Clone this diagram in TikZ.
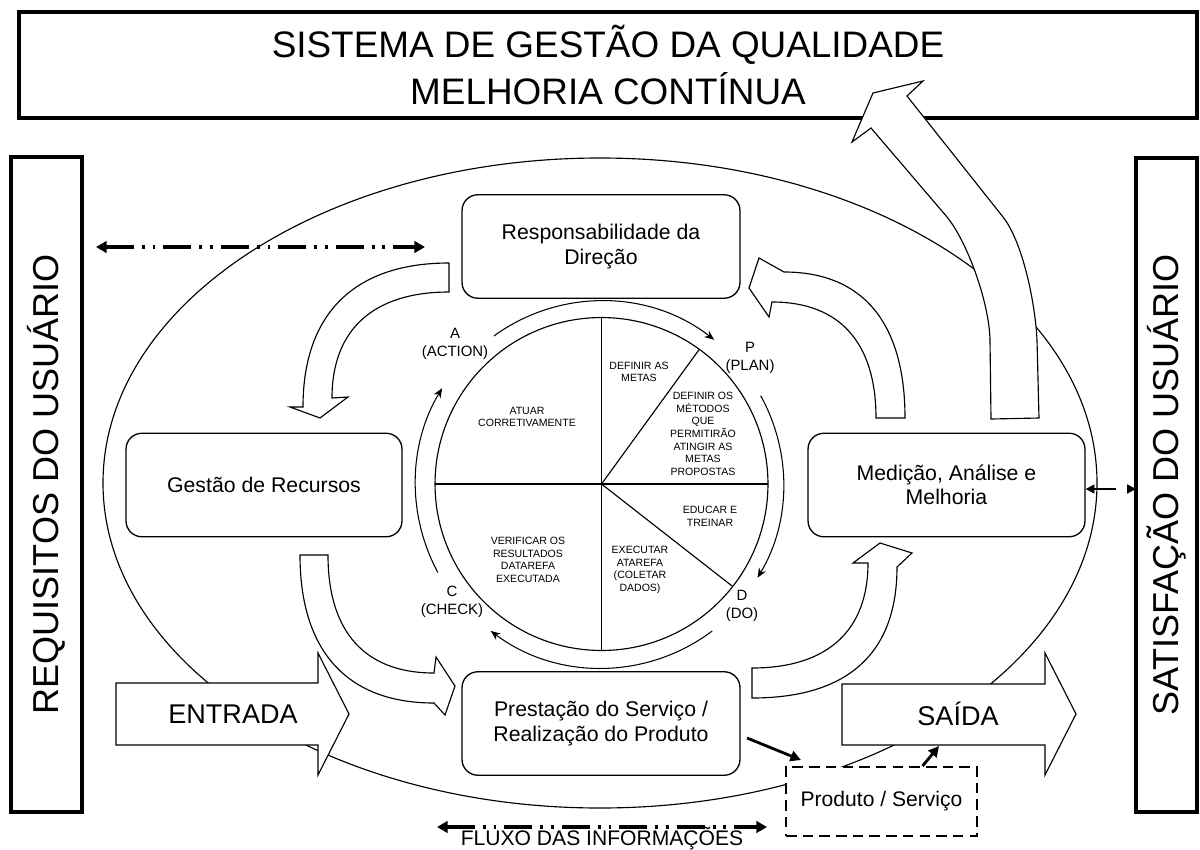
\documentclass[tikz,border=0pt]{standalone}
\usepackage{fontspec}
\setmainfont{Liberation Sans}
\usetikzlibrary{arrows.meta,calc}
\begin{document}
\begin{tikzpicture}[x=0.02cm,y=-0.02cm,
  thinline/.style={line width=0.65pt},
  bigbox/.style={draw, line width=1.9pt, fill=white, inner sep=0pt},
  rbox/.style={draw, line width=0.75pt, rounded corners=9pt, fill=white, minimum width=5.56cm, minimum height=2.07cm, align=center, inner sep=0pt, font=\fontsize{12.1}{13.9}\selectfont},
  band/.style={draw, line width=0.65pt, fill=white, line join=miter},
  pdca/.style={align=center, font=\fontsize{8.5}{10.2}\selectfont, inner sep=0pt},
  pietxt/.style={align=center, font=\fontsize{6}{7.2}\selectfont, inner sep=0pt},
  ringarrow/.style={line width=0.6pt, -{Stealth[length=5.5pt,width=4.5pt]}},
  infoarrow/.style={line width=1.8pt, dash pattern=on 16pt off 4.5pt on 1.6pt off 4.5pt on 1.6pt off 4.5pt, {Triangle[length=6pt,width=6.5pt]}-{Triangle[length=6pt,width=6.5pt]}},
  solidarrow/.style={line width=1.6pt, -{Triangle[length=6pt,width=6pt]}},
  bigtxt/.style={inner sep=0pt, font=\fontsize{15.4}{18}\selectfont},
]
\fill[white] (0,0) rectangle (1200,849);
\useasboundingbox (0,0) rectangle (1200,849);

% outer ellipse
\draw[thinline] (600,483) ellipse [x radius=497, y radius=325];

% frame boxes
\node[bigbox, minimum width=23.56cm, minimum height=2.12cm, align=center, font=\fontsize{21}{26.5}\selectfont] (title) at (608,65) {SISTEMA DE GESTÃO DA QUALIDADE\\MELHORIA CONTÍNUA};
\node[bigbox, rotate=90, minimum width=13.1cm, minimum height=1.42cm, font=\fontsize{20.5}{24}\selectfont] (lbox) at (46.5,484.5) {REQUISITOS DO USUÁRIO};
\node[bigbox, rotate=90, minimum width=13.08cm, minimum height=1.22cm, font=\fontsize{20.5}{24}\selectfont] (rbox) at (1166.5,485) {SATISFAÇÃO DO USUÁRIO};

% PDCA pie
\node[circle, draw, thinline, minimum size=6.66cm, inner sep=0pt, outer sep=0pt] (pie) at (601.5,484) {};
\draw[thinline] (pie.north) -- (pie.south);
\draw[thinline] (pie.west) -- (pie.east);
\draw[thinline] (pie.center) -- (pie.54);
\draw[thinline] (pie.center) -- (pie.-38);

% ring arrows
\draw[ringarrow] ($(pie.center)+(-126:183)$) arc[start angle=-126, end angle=-52, radius=183];
\draw[ringarrow] ($(pie.center)+(-29:182)$) arc[start angle=-29, end angle=31, radius=182];
\draw[ringarrow] ($(pie.center)+(53:184)$) arc[start angle=53, end angle=127, radius=184];
\draw[ringarrow] ($(pie.center)+(151.6:186)$) arc[start angle=151.6, end angle=211, radius=186];

% PDCA labels
\node[pdca] (lA) at (455,344) {A\\(ACTION)};
\node[pdca] (lP) at (750,358) {P\\(PLAN)};
\node[pdca] (lD) at (742,606) {D\\(DO)};
\node[pdca] (lC) at (452,602) {C\\(CHECK)};

% pie texts
\node[pietxt] (t1) at (639,372) {DEFINIR AS\\METAS};
\node[pietxt] (t2) at (703,434) {DEFINIR OS\\MÉTODOS\\QUE\\PERMITIRÃO\\ATINGIR AS\\METAS\\PROPOSTAS};
\node[pietxt] (t3) at (527,417) {ATUAR\\CORRETIVAMENTE};
\node[pietxt] (t4) at (710,516) {EDUCAR E\\TREINAR};
\node[pietxt] (t5) at (528,560) {VERIFICAR OS\\RESULTADOS\\DATAREFA\\EXECUTADA};
\node[pietxt] (t6) at (640,570) {EXECUTAR\\ATAREFA\\(COLETAR\\DADOS)};

% process boxes
\node[rbox] (resp) at (601,246.5) {Responsabilidade da\\Direção};
\node[rbox, minimum width=5.52cm] (gest) at (264,485) {Gestão de Recursos};
\node[rbox, minimum width=5.54cm] (med) at (946.5,485) {Medição, Análise e\\Melhoria};
\node[rbox] (prest) at (601,723.5) {Prestação do Serviço /\\Realização do Produto};

% curved block arrows
\draw[band] (449,263) .. controls (355,263) and (303,313) .. (303,407) -- (290,407) -- (320,418) -- (348,397) -- (332,398) .. controls (332,329) and (374,292) .. (449,292) -- cycle;
\draw[band] (300,555) .. controls (300,651) and (347,703) .. (434,703) -- (445,715) -- (455,686) -- (436,657) -- (434,673) .. controls (365,673) and (328,632) .. (328,555) -- cycle;
\draw[band] (752,668) .. controls (827,668) and (868,631) .. (868,563) -- (853,563) -- (880,543) -- (912,553) -- (897,567) .. controls (897,655) and (846,698) .. (752,698) -- cycle;
\draw[band] (876,418) .. controls (876,343) and (840,302) .. (772,302) -- (769,317) -- (749,288) -- (759,258) -- (784,272) .. controls (863,272) and (905,323) .. (905,418) -- cycle;
\draw[band] (991,419) -- (990,340) .. controls (989,300) and (966,240) .. (947,217) -- (871,128) -- (852,142) -- (873,93) -- (923,81) -- (907,96) -- (1003,217) .. controls (1022,241) and (1035,300) .. (1037,340) -- (1039,418) -- cycle;

% entrada / saida
\draw[band] (116,683) -- (318,683) -- (318,653) -- (349,714) -- (318,775) -- (318,745) -- (116,745) -- cycle;
\node[bigtxt] (entr) at (233,714) {ENTRADA};
\draw[band] (842,684) -- (1045,684) -- (1045,653) -- (1076,714) -- (1045,775) -- (1045,745) -- (842,745) -- cycle;
\node[bigtxt] (said) at (958,714) {SAÍDA};

% produto / servico
\node[draw, fill=white, line width=1.1pt, dash pattern=on 6pt off 3.5pt, minimum width=3.82cm, minimum height=1.38cm, inner sep=0pt, font=\fontsize{12}{14}\selectfont] (prod) at (881.5,801.5) {Produto / Serviço};

% small arrows
\coordinate (pa) at (747,738);
\coordinate (pb) at (801,760);
\draw[solidarrow] (pa) -- (pb);
\coordinate (qb) at (939,746);
\draw[solidarrow] ($(prod.north)+(41,0)$) -- (qb);
\coordinate (rb) at (1136,489);
\draw[line width=1.1pt, dash pattern=on 12.5pt off 20pt, {Triangle[length=5pt,width=5pt]}-{Triangle[length=5pt,width=5pt]}] ($(med.east)+(0,4)$) -- (rb);

% information flow arrows
\coordinate (d1) at (96,247);
\coordinate (d2) at (425,247);
\draw[infoarrow] (d1) -- (d2);
\coordinate (f1) at (437,827);
\coordinate (f2) at (767,827);
\draw[infoarrow] (f1) -- (f2);
\node[inner sep=0pt, font=\fontsize{12}{14}\selectfont] (flux) at (602,838) {FLUXO DAS INFORMAÇÕES};
\end{tikzpicture}
\end{document}
